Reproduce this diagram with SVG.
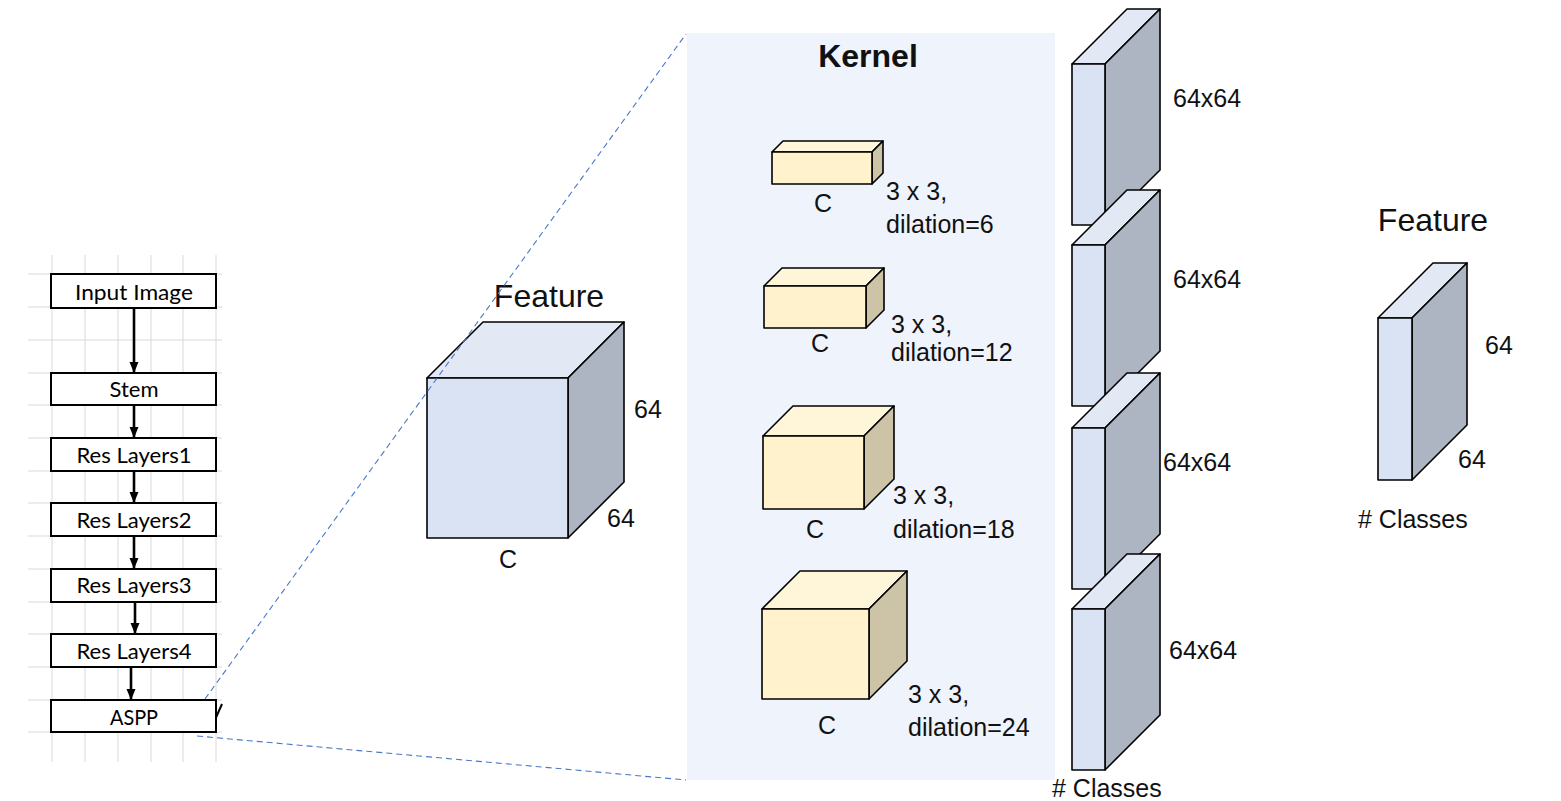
<svg xmlns="http://www.w3.org/2000/svg" width="1561" height="801" viewBox="0 0 1561 801">
<defs>
<marker id="ah" markerWidth="12" markerHeight="12" refX="10" refY="6" orient="auto" markerUnits="userSpaceOnUse">
<path d="M0,1.5 L11,6 L0,10.5 Z" fill="#000"/>
</marker>
<style>
.grid{stroke:#d9d9d9;stroke-width:1}
.box{fill:#fff;stroke:#000;stroke-width:2}
.btxt{font-family:Lato,"Open Sans",sans-serif;font-size:22px;fill:#000;text-anchor:middle}
.arr{stroke:#000;stroke-width:2.6;fill:none;marker-end:url(#ah)}
.bf{fill:#dae3f3;stroke:#000;stroke-width:1.6;stroke-linejoin:round}
.bt{fill:#e3e9f4;stroke:#000;stroke-width:1.6;stroke-linejoin:round}
.bs{fill:#adb5c2;stroke:#000;stroke-width:1.6;stroke-linejoin:round}
.kf{fill:#fff2cc;stroke:#000;stroke-width:1.6;stroke-linejoin:round}
.kt{fill:#fff5d8;stroke:#000;stroke-width:1.6;stroke-linejoin:round}
.ks{fill:#cdc3a6;stroke:#000;stroke-width:1.6;stroke-linejoin:round}
.t{font-family:"Liberation Sans",Arial,sans-serif;font-size:25px;fill:#111}
.tc{font-family:"Liberation Sans",Arial,sans-serif;font-size:25px;fill:#111;text-anchor:middle}
.title{font-family:"Liberation Sans",Arial,sans-serif;font-size:32px;fill:#111;text-anchor:middle}
.dash{stroke:#4a78c8;stroke-width:1.1;stroke-dasharray:6,4;fill:none}
</style>
</defs>

<!-- background grid -->
<g id="grid">
<line class="grid" x1="28" y1="274" x2="222" y2="274"/>
<line class="grid" x1="28" y1="307" x2="222" y2="307"/>
<line class="grid" x1="28" y1="340" x2="222" y2="340"/>
<line class="grid" x1="28" y1="373" x2="222" y2="373"/>
<line class="grid" x1="28" y1="405" x2="222" y2="405"/>
<line class="grid" x1="28" y1="438" x2="222" y2="438"/>
<line class="grid" x1="28" y1="471" x2="222" y2="471"/>
<line class="grid" x1="28" y1="503" x2="222" y2="503"/>
<line class="grid" x1="28" y1="536" x2="222" y2="536"/>
<line class="grid" x1="28" y1="569" x2="222" y2="569"/>
<line class="grid" x1="28" y1="602" x2="222" y2="602"/>
<line class="grid" x1="28" y1="634" x2="222" y2="634"/>
<line class="grid" x1="28" y1="667" x2="222" y2="667"/>
<line class="grid" x1="28" y1="700" x2="222" y2="700"/>
<line class="grid" x1="28" y1="732" x2="222" y2="732"/>
<line class="grid" x1="52" y1="255" x2="52" y2="762"/>
<line class="grid" x1="85" y1="255" x2="85" y2="762"/>
<line class="grid" x1="118" y1="255" x2="118" y2="762"/>
<line class="grid" x1="151" y1="255" x2="151" y2="762"/>
<line class="grid" x1="183" y1="255" x2="183" y2="762"/>
<line class="grid" x1="216" y1="255" x2="216" y2="762"/>
</g>

<!-- kernel panel -->
<g id="kernel-panel">
<rect x="687" y="33" width="368" height="747" fill="#eff3fb"/>
<text class="title" x="868" y="67" font-weight="bold">Kernel</text>
</g>

<!-- flowchart connectors -->
<g id="connectors">
<line class="arr" x1="134" y1="308" x2="134" y2="372"/>
<line class="arr" x1="134" y1="405" x2="134" y2="437"/>
<line class="arr" x1="134" y1="471" x2="134" y2="502"/>
<line class="arr" x1="134" y1="536" x2="134" y2="568"/>
<line class="arr" x1="135" y1="602" x2="135" y2="633"/>
<line class="arr" x1="131" y1="667" x2="131" y2="699"/>
<line x1="214" y1="722" x2="222" y2="704" stroke="#000" stroke-width="2"/>
</g>

<!-- flowchart nodes -->
<g id="input-image"><rect class="box" x="51" y="274" width="165" height="34"/><text class="btxt" x="134" y="300" textLength="118" lengthAdjust="spacingAndGlyphs">Input Image</text></g>
<g id="stem"><rect class="box" x="51" y="373" width="165" height="32"/><text class="btxt" x="134" y="397" textLength="49" lengthAdjust="spacingAndGlyphs">Stem</text></g>
<g id="res1"><rect class="box" x="51" y="438" width="165" height="33"/><text class="btxt" x="134" y="463" textLength="115" lengthAdjust="spacingAndGlyphs">Res Layers1</text></g>
<g id="res2"><rect class="box" x="51" y="503" width="165" height="33"/><text class="btxt" x="134" y="528" textLength="115" lengthAdjust="spacingAndGlyphs">Res Layers2</text></g>
<g id="res3"><rect class="box" x="51" y="569" width="165" height="33"/><text class="btxt" x="134" y="593" textLength="115" lengthAdjust="spacingAndGlyphs">Res Layers3</text></g>
<g id="res4"><rect class="box" x="51" y="634" width="165" height="33"/><text class="btxt" x="134" y="659" textLength="115" lengthAdjust="spacingAndGlyphs">Res Layers4</text></g>
<g id="aspp"><rect class="box" x="51" y="700" width="165" height="32"/><text class="btxt" x="134" y="725" textLength="48" lengthAdjust="spacingAndGlyphs">ASPP</text></g>

<!-- input feature cube -->
<g id="feature-in">
<text class="title" x="549" y="307">Feature</text>
<polygon class="bt" points="427,378 483,322 624,322 568,378"/>
<polygon class="bs" points="568,378 624,322 624,482 568,538"/>
<rect class="bf" x="427" y="378" width="141" height="160"/>
<text class="t" x="634" y="418">64</text>
<text class="t" x="607" y="527">64</text>
<text class="tc" x="508" y="568">C</text>
</g>

<!-- kernels -->
<g id="kernel1">
<polygon class="kt" points="772,152 783,141 883,141 872,152"/>
<polygon class="ks" points="872,152 883,141 883,173 872,184"/>
<rect class="kf" x="772" y="152" width="100" height="32"/>
<text class="tc" x="823" y="212">C</text>
<text class="t" x="886" y="200">3 x 3,</text>
<text class="t" x="886" y="233">dilation=6</text>
</g>
<g id="kernel2">
<polygon class="kt" points="764,286 782,268 884,268 866,286"/>
<polygon class="ks" points="866,286 884,268 884,310 866,328"/>
<rect class="kf" x="764" y="286" width="102" height="42"/>
<text class="tc" x="820" y="352">C</text>
<text class="t" x="891" y="333">3 x 3,</text>
<text class="t" x="891" y="361">dilation=12</text>
</g>
<g id="kernel3">
<polygon class="kt" points="763,436 793,406 894,406 864,436"/>
<polygon class="ks" points="864,436 894,406 894,479 864,509"/>
<rect class="kf" x="763" y="436" width="101" height="73"/>
<text class="tc" x="815" y="538">C</text>
<text class="t" x="893" y="504">3 x 3,</text>
<text class="t" x="893" y="538">dilation=18</text>
</g>
<g id="kernel4">
<polygon class="kt" points="762,609 800,571 907,571 869,609"/>
<polygon class="ks" points="869,609 907,571 907,661 869,699"/>
<rect class="kf" x="762" y="609" width="107" height="90"/>
<text class="tc" x="827" y="734">C</text>
<text class="t" x="908" y="703">3 x 3,</text>
<text class="t" x="908" y="736">dilation=24</text>
</g>

<!-- output slabs -->
<g id="slab1">
<polygon class="bt" points="1072,64 1127,9 1160,9 1105,64"/>
<polygon class="bs" points="1105,64 1160,9 1160,170 1105,225"/>
<rect class="bf" x="1072" y="64" width="33" height="161"/>
<text class="t" x="1173" y="107">64x64</text>
</g>
<g id="slab2">
<polygon class="bt" points="1072,245 1127,190 1160,190 1105,245"/>
<polygon class="bs" points="1105,245 1160,190 1160,351 1105,406"/>
<rect class="bf" x="1072" y="245" width="33" height="161"/>
<text class="t" x="1173" y="288">64x64</text>
</g>
<g id="slab3">
<polygon class="bt" points="1072,428 1127,373 1160,373 1105,428"/>
<polygon class="bs" points="1105,428 1160,373 1160,534 1105,589"/>
<rect class="bf" x="1072" y="428" width="33" height="161"/>
<text class="t" x="1163" y="471">64x64</text>
</g>
<g id="slab4">
<polygon class="bt" points="1072,609 1127,554 1160,554 1105,609"/>
<polygon class="bs" points="1105,609 1160,554 1160,715 1105,770"/>
<rect class="bf" x="1072" y="609" width="33" height="161"/>
<text class="t" x="1169" y="659">64x64</text>
<text class="t" x="1052" y="797"># Classes</text>
</g>

<!-- output feature -->
<g id="feature-out">
<text class="title" x="1433" y="231">Feature</text>
<polygon class="bt" points="1378,318 1433,263 1467,263 1412,318"/>
<polygon class="bs" points="1412,318 1467,263 1467,425 1412,480"/>
<rect class="bf" x="1378" y="318" width="34" height="162"/>
<text class="t" x="1485" y="354">64</text>
<text class="t" x="1458" y="468">64</text>
<text class="t" x="1358" y="528"># Classes</text>
</g>

<!-- zoom guide lines -->
<g id="guides">
<line class="dash" x1="205" y1="699" x2="686" y2="34"/>
<line class="dash" x1="197" y1="736" x2="686" y2="780"/>
</g>
</svg>
